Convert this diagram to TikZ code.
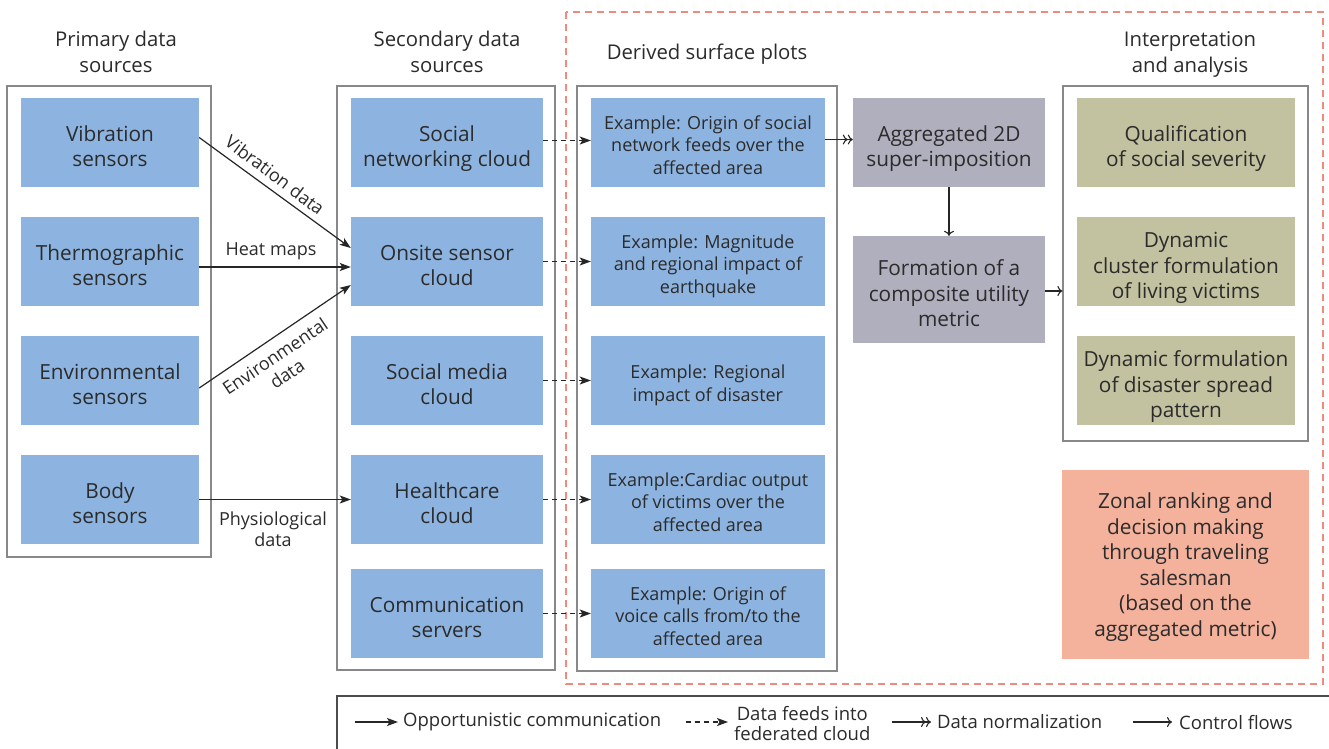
\documentclass[tikz,border=0pt]{standalone}
\usepackage{fontspec}
\setmainfont{Open Sans}
\usetikzlibrary{arrows.meta,calc}
\definecolor{cblue}{HTML}{8DB4E0}
\definecolor{cgray}{HTML}{B0AFBE}
\definecolor{colive}{HTML}{C2C1A0}
\definecolor{csalmon}{HTML}{F4B19B}
\definecolor{cred}{HTML}{F08A7E}
\definecolor{ctxt}{HTML}{2B2B2B}
\definecolor{cframe}{HTML}{888888}
\tikzset{
  box/.style={inner sep=0pt, align=center, text=ctxt, text depth=0pt, font=\fontsize{20.8}{25.5}\selectfont},
  twol/.style={text height=48.5pt},
  threel/.style={text height=74pt},
  bluebox/.style={box, twol, fill=cblue, minimum height=89pt},
  dbox/.style={box, fill=cblue, minimum height=89pt, font=\fontsize{18}{22.5}\selectfont, minimum width=234pt, text height=63.7pt},
  dboxtwo/.style={dbox, text height=41.2pt},
  container/.style={draw=cframe, line width=1.2pt, inner sep=0pt},
  title/.style={box, font=\fontsize{20.3}{25.5}\selectfont},
  lbl/.style={inner sep=0pt, align=center, text=ctxt, font=\fontsize{18}{21.5}\selectfont},
  leg/.style={inner sep=0pt, align=center, text=ctxt, font=\fontsize{18.5}{20}\selectfont},
  opp/.style={line width=1.2pt, draw=black!85, -{Stealth[length=11pt,width=8pt,inset=2.5pt]}},
  feed/.style={opp, dash pattern=on 5pt off 4pt},
  norm/.style={line width=1.1pt, draw=black!85, -{To[length=5pt,width=10pt] To[length=5pt,width=10pt]}},
  ctrl/.style={line width=1.1pt, draw=black!85, -{To[length=5pt,width=10pt]}}
}
\begin{document}
\begin{tikzpicture}[x=1pt,y=-1pt]
\useasboundingbox (0,0) rectangle (1329,748);
\clip (0,0) rectangle (1329,748);
\fill[white] (0,0) rectangle (1329,748);

% titles
\node[title] (t1) at (116,52) {Primary data\\sources};
\node[title] (t2) at (447,52) {Secondary data\\sources};
\node[title] (t3) at (707,52) {Derived surface plots};
\node[title] (t4) at (1190,52) {Interpretation\\and analysis};

% containers
\node[container, minimum width=204pt, minimum height=471pt] (pc) at (109,321.5) {};
\node[container, minimum width=218pt, minimum height=584pt] (sc) at (446,378) {};
\node[container, minimum width=260pt, minimum height=585pt] (dc) at (707,378.5) {};
\node[container, minimum width=245pt, minimum height=355pt] (ic) at (1185.5,263.5) {};

% red dashed region
\draw[cred, line width=1.3pt, dash pattern=on 7pt off 5pt] (566,12) rectangle (1323,684);

% primary boxes
\node[bluebox, minimum width=178pt] (p1) at (110,142.5) {Vibration\\sensors};
\node[bluebox, minimum width=178pt] (p2) at (110,261.5) {Thermographic\\sensors};
\node[bluebox, minimum width=178pt] (p3) at (110,380.5) {Environmental\\sensors};
\node[bluebox, minimum width=178pt] (p4) at (110,499.5) {Body\\sensors};

% secondary boxes
\node[bluebox, minimum width=192pt] (s1) at (447,142.5) {Social\\networking cloud};
\node[bluebox, minimum width=192pt] (s2) at (447,261.5) {Onsite sensor\\cloud};
\node[bluebox, minimum width=192pt] (s3) at (447,380.5) {Social media\\cloud};
\node[bluebox, minimum width=192pt] (s4) at (447,499.5) {Healthcare\\cloud};
\node[bluebox, minimum width=192pt] (s5) at (447,613.5) {Communication\\servers};

% derived boxes
\node[dbox] (d1) at (708,142.5) {Example: Origin of social\\network feeds over the\\affected area};
\node[dbox] (d2) at (708,261.5) {Example: Magnitude\\and regional impact of\\earthquake};
\node[dboxtwo] (d3) at (708,380.5) {Example: Regional\\impact of disaster};
\node[dbox] (d4) at (708,499.5) {Example:Cardiac output\\of victims over the\\affected area};
\node[dbox] (d5) at (708,613.5) {Example: Origin of\\voice calls from/to the\\affected area};

% gray boxes
\node[box, twol, fill=cgray, minimum width=192pt, minimum height=89pt] (g1) at (949,142.5) {Aggregated 2D\\super-imposition};
\node[box, threel, fill=cgray, minimum width=192pt, minimum height=107pt] (g2) at (949,289.5) {Formation of a\\composite utility\\metric};

% olive boxes
\node[box, twol, fill=colive, minimum width=218pt, minimum height=89pt] (o1) at (1186,142.5) {Qualification\\of social severity};
\node[box, threel, fill=colive, minimum width=218pt, minimum height=89pt] (o2) at (1186,261.5) {Dynamic\\cluster formulation\\of living victims};
\node[box, threel, fill=colive, minimum width=218pt, minimum height=89pt] (o3) at (1186,380.5) {Dynamic formulation\\of disaster spread\\pattern};

% salmon box
\node[box, fill=csalmon, minimum width=247pt, minimum height=189pt] (z) at (1185.5,564.5) {Zonal ranking and\\decision making\\through traveling\\salesman\\(based on the\\aggregated metric)};

% primary -> secondary
\draw[opp] ($(p1.east)+(0,-5)$) -- ($(s2.west)+(0,-13.5)$);
\draw[opp] ($(p2.east)+(0,5.5)$) -- ($(s2.west)+(0,5.5)$);
\draw[opp] ($(p3.east)+(0,7.5)$) -- ($(s2.west)+(0,23.5)$);
\draw[opp] (p4.east) -- (s4.west);
\node[lbl, rotate=-37] (lv) at (275,175) {Vibration data};
\node[lbl] (lh) at (271,251) {Heat maps};
\node[lbl, rotate=34] (le) at (281,365) {Environmental\\data};
\node[lbl] (lp) at (273,529) {Physiological\\data};

% secondary -> derived
\draw[feed] ($(s1.east)+(0,-2)$) -- ($(d1.west)+(0,-2)$);
\draw[feed] (s2.east) -- (d2.west);
\draw[feed] (s3.east) -- (d3.west);
\draw[feed] (s4.east) -- (d4.west);
\draw[feed] (s5.east) -- (d5.west);

% derived -> aggregated
\draw[norm] ($(d1.east)+(0,-3)$) -- ($(g1.west)+(0,-3)$);
\draw[ctrl] (g1.south) -- (g2.north);
\draw[ctrl] ($(g2.east)+(0,1.5)$) -- ($(g2.east -| ic.west)+(0,1.5)$);

% legend
\draw[black!70, line width=1.3pt] (337,696) rectangle (1345,770);
\node[leg, anchor=west] (k1) at (403,722) {Opportunistic communication};
\node[leg, anchor=west] (k2) at (734,723) {Data feeds into\\federated cloud};
\node[leg, anchor=west] (k3) at (937,722) {Data normalization};
\node[leg, anchor=west] (k4) at (1179,722) {Control flows};
\coordinate (a1) at (355,722);
\coordinate (a2) at (686,722);
\coordinate (a3) at (892,722);
\coordinate (a4) at (1133,722);
\draw[opp] (a1) -- ([xshift=-5pt]k1.west);
\draw[feed] (a2) -- ([xshift=-6pt]k2.west |- a2);
\draw[norm] (a3) -- ([xshift=-6pt]k3.west);
\draw[ctrl] (a4) -- ([xshift=-7pt]k4.west);
\end{tikzpicture}
\end{document}
